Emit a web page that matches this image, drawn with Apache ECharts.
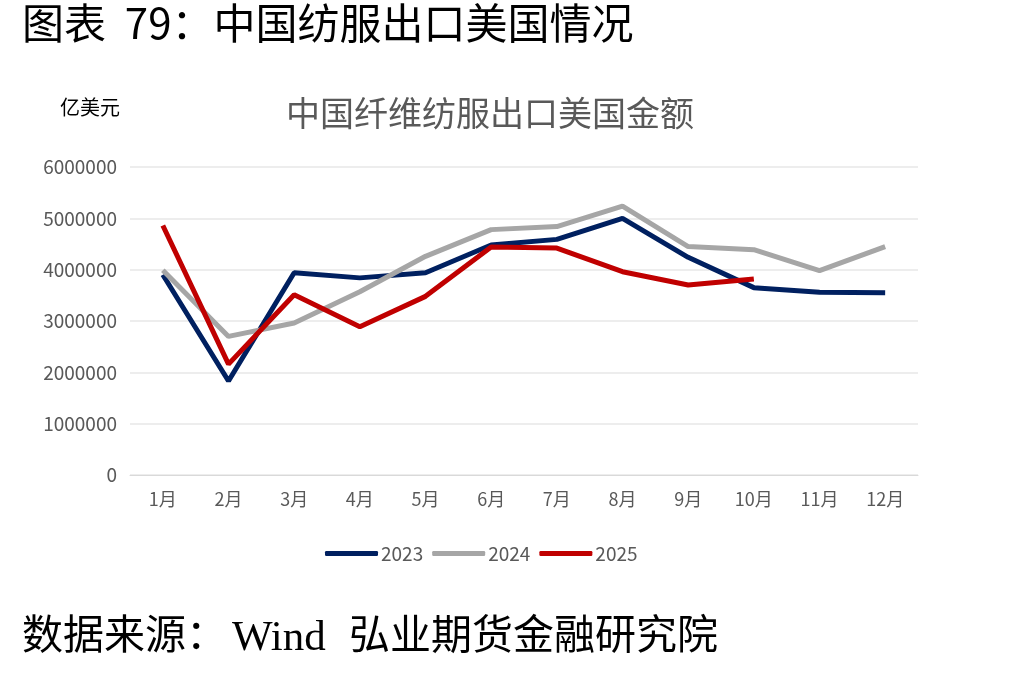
<!DOCTYPE html>
<html>
<head>
<meta charset="utf-8">
<title>中国纺服出口美国情况</title>
<script src="https://cdn.jsdelivr.net/npm/echarts@6/dist/echarts.min.js"></script>
<style>
  html, body { margin: 0; padding: 0; background: #fff; }
  #chart { width: 1033px; height: 675px; }
</style>
</head>
<body>
<div id="chart"></div>
<script>
// 数据
var months = ['1月','2月','3月','4月','5月','6月','7月','8月','9月','10月','11月','12月'];
var seriesNames = ['2023','2024','2025'];
var v2023 = [3900000,1830000,3940000,3840000,3940000,4480000,4590000,5000000,4240000,3650000,3560000,3550000];
var v2024 = [3990000,2700000,2960000,3570000,4260000,4780000,4840000,5240000,4450000,4390000,3980000,4450000];
var v2025 = [4860000,2160000,3510000,2890000,3480000,4440000,4420000,3960000,3700000,3820000];
var lineColors = ['#002060','#A6A6A6','#C00000'];

var myChart = echarts.init(document.getElementById('chart'));
var cjk = '"Noto Sans CJK SC", "Noto Sans", sans-serif';
var serif = '"Liberation Serif", "DejaVu Serif", serif';

var option = {
  backgroundColor: '#fff',
  animation: false,
  title: {
    text: '中国纤维纺服出口美国金额',
    left: 485, top: 91, textAlign: 'center',
    textStyle: { fontFamily: cjk, fontSize: 34, fontWeight: 'normal', color: '#595959' }
  },
  graphic: [
    { type: 'text', left: 22, top: 2, style: {
        text: '图表  79：中国纺服出口美国情况',
        font: '42px ' + cjk, fill: '#000' } },
    { type: 'text', left: 22, top: 613, style: { text: '数据来源：', font: '41px ' + cjk, fill: '#000' } },
    { type: 'text', left: 232, top: 617, style: { text: 'Wind', font: '43px ' + serif, fill: '#000' } },
    { type: 'text', left: 349, top: 613, style: { text: '弘业期货金融研究院', font: '41px ' + cjk, fill: '#000' } },
    { type: 'text', left: 60, top: 97, style: { text: '亿美元', font: '20px ' + cjk, fill: '#000' } }
  ],
  legend: {
    data: seriesNames,
    top: 539, left: 320,
    itemWidth: 53, itemHeight: 5, itemGap: 9,
    icon: 'roundRect',
    textStyle: { fontFamily: cjk, fontSize: 19, color: '#595959', padding: [0, 0, 0, -2] }
  },
  grid: { left: 130, right: 115, top: 167, bottom: 200 },
  xAxis: {
    type: 'category',
    data: months,
    boundaryGap: true,
    axisLine: { lineStyle: { color: '#D9D9D9' } },
    axisTick: { show: false },
    axisLabel: { fontFamily: cjk, fontSize: 18, color: '#595959', margin: 15 }
  },
  yAxis: {
    type: 'value',
    min: 0, max: 6000000, interval: 1000000,
    axisLine: { show: false },
    axisTick: { show: false },
    splitLine: { lineStyle: { color: '#EDEDED', width: 2 } },
    axisLabel: { fontFamily: cjk, fontSize: 19, color: '#595959', margin: 13,
      formatter: function (v) { return String(v); } }
  },
  series: [
    { name: '2023', type: 'line', data: v2023, showSymbol: false, lineStyle: { width: 5, color: lineColors[0] }, itemStyle: { color: lineColors[0] } },
    { name: '2024', type: 'line', data: v2024, showSymbol: false, lineStyle: { width: 5, color: lineColors[1] }, itemStyle: { color: lineColors[1] } },
    { name: '2025', type: 'line', data: v2025, showSymbol: false, lineStyle: { width: 5, color: lineColors[2] }, itemStyle: { color: lineColors[2] } }
  ]
};
myChart.setOption(option);
</script>
</body>
</html>
